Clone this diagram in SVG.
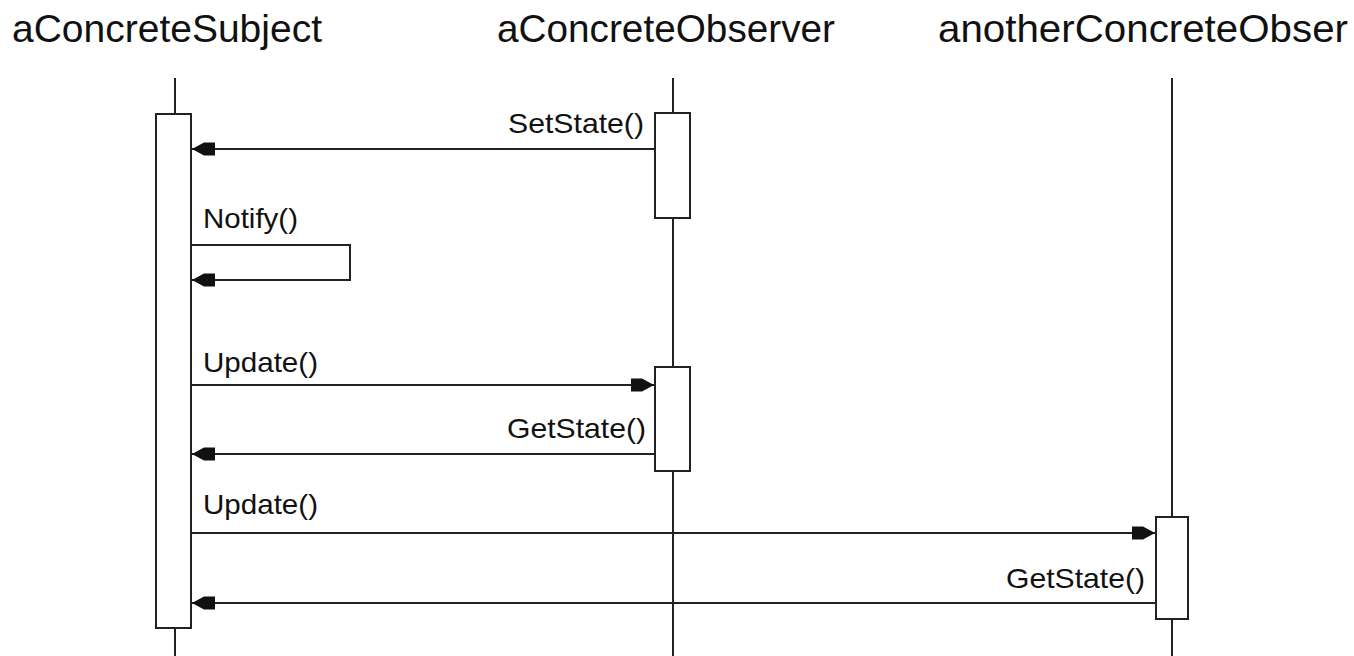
<svg xmlns="http://www.w3.org/2000/svg" width="1354" height="656" viewBox="0 0 1354 656">
<style>
.title{font-family:"Liberation Sans",Arial,sans-serif;font-size:39px;fill:#111}
.lbl{font-family:"Liberation Sans",Arial,sans-serif;font-size:28px;fill:#111}
.life{stroke:#222;stroke-width:2;fill:none}
.act{stroke:#222;stroke-width:2;fill:#fff}
.msg{stroke:#222;stroke-width:2;fill:none;marker-end:url(#ah)}
</style>
<defs>
<marker id="ah" markerUnits="userSpaceOnUse" markerWidth="24" markerHeight="16" viewBox="0 0 24 16" refX="23" refY="8" orient="auto">
<path d="M0,1.5 L11,1.5 L23,8 L11,14.5 L0,14.5 Z" fill="#111"/>
</marker>
</defs>
<rect width="1354" height="656" fill="#fff"/>
<g id="aConcreteSubject">
<text class="title" x="12" y="42" textLength="310" lengthAdjust="spacingAndGlyphs">aConcreteSubject</text>
<line class="life" x1="175" y1="78" x2="175" y2="656"/>
<rect class="act" x="156" y="114" width="35" height="514"/>
</g>
<g id="aConcreteObserver">
<text class="title" x="497" y="42" textLength="338" lengthAdjust="spacingAndGlyphs">aConcreteObserver</text>
<line class="life" x1="673" y1="78" x2="673" y2="656"/>
<rect class="act" x="655" y="113" width="35" height="105"/>
<rect class="act" x="655" y="367" width="35" height="104"/>
</g>
<g id="anotherConcreteObserver">
<text class="title" x="938" y="42" textLength="410" lengthAdjust="spacingAndGlyphs">anotherConcreteObser</text>
<line class="life" x1="1172" y1="78" x2="1172" y2="656"/>
<rect class="act" x="1156" y="517" width="32" height="102"/>
</g>
<g id="connectors">
<line class="msg" x1="655" y1="149" x2="192" y2="149"/>
<text class="lbl" x="644" y="133" text-anchor="end" textLength="136" lengthAdjust="spacingAndGlyphs">SetState()</text>
<path class="msg" d="M191,245 H350 V280 H192"/>
<text class="lbl" x="203" y="228" textLength="95" lengthAdjust="spacingAndGlyphs">Notify()</text>
<line class="msg" x1="191" y1="385" x2="654" y2="385"/>
<text class="lbl" x="203" y="372" textLength="115" lengthAdjust="spacingAndGlyphs">Update()</text>
<line class="msg" x1="655" y1="454" x2="192" y2="454"/>
<text class="lbl" x="646" y="438" text-anchor="end" textLength="139" lengthAdjust="spacingAndGlyphs">GetState()</text>
<line class="msg" x1="191" y1="533" x2="1155" y2="533"/>
<text class="lbl" x="203" y="514" textLength="115" lengthAdjust="spacingAndGlyphs">Update()</text>
<line class="msg" x1="1156" y1="603" x2="192" y2="603"/>
<text class="lbl" x="1145" y="588" text-anchor="end" textLength="139" lengthAdjust="spacingAndGlyphs">GetState()</text>
</g>
</svg>
